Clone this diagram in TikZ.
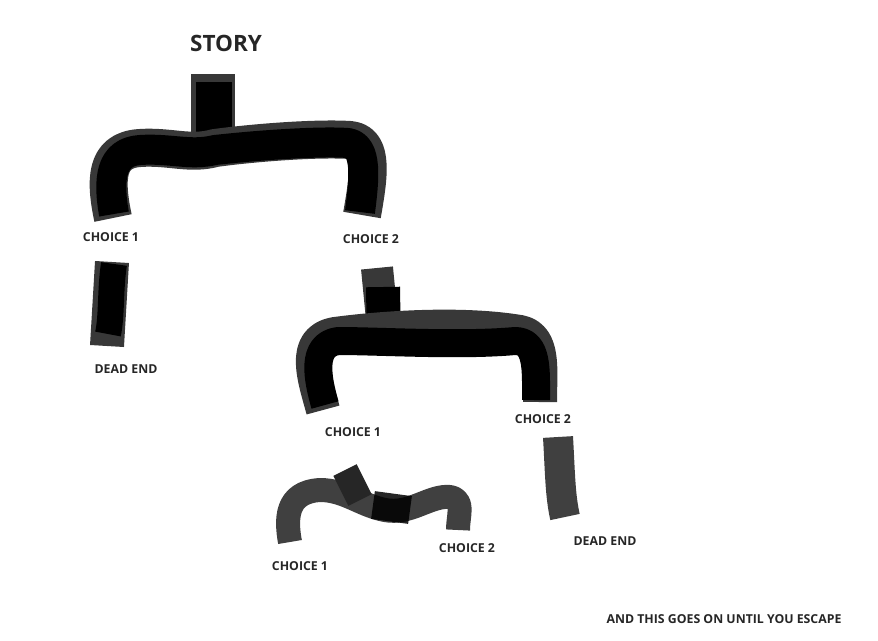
\documentclass[tikz,border=0pt]{standalone}
\usepackage{fontspec}
\setmainfont{Open Sans}
\begin{document}
\begin{tikzpicture}[x=1pt,y=-1pt,
  lbl/.style={font=\bfseries\fontsize{12.3}{14}\selectfont, text=black!85, inner sep=0pt},
  halo/.style={draw=black!78, line width=#1, line cap=butt, line join=round},
  core/.style={draw=black, line width=#1, line cap=butt, line join=round},
  grey/.style={draw=black!75, line width=#1, line cap=butt, line join=round}]
\useasboundingbox (0,0) rectangle (878,640);
% labels
\node[lbl, font=\bfseries\fontsize{22.5}{26}\selectfont] (story) at (226,43) {STORY};
\node[lbl] (c1) at (111,237) {CHOICE 1};
\node[lbl] (c2) at (371,239) {CHOICE 2};
\node[lbl] (d1) at (126,369) {DEAD END};
\node[lbl] (c21) at (353,432) {CHOICE 1};
\node[lbl] (c22) at (543,419) {CHOICE 2};
\node[lbl] (c31) at (300,566) {CHOICE 1};
\node[lbl] (c32) at (467,548) {CHOICE 2};
\node[lbl] (d2) at (605,541) {DEAD END};
\node[lbl] (note) at (724,619) {AND THIS GOES ON UNTIL YOU ESCAPE};
% tree 1
\coordinate (t1top) at (213,74);
\coordinate (t1j) at (213,150);
\draw[halo=44] (t1top) -- (213,158);
\draw[core=36] (214,82) -- (214,158);
\draw[halo=38] (113,218) .. controls (105,180) and (105,150) .. (140,148)
   .. controls (170,146) and (190,155) .. (215,148)
   .. controls (260,142) and (320,138) .. (350,140)
   .. controls (375,142) and (368,180) .. (362,215);
\draw[core=30] (114,214) .. controls (108,180) and (110,152) .. (140,150)
   .. controls (170,148) and (190,156) .. (215,150)
   .. controls (260,145) and (320,141) .. (348,143)
   .. controls (368,146) and (364,180) .. (360,212);
% dead end 1
\draw[halo=34] (112,262) -- (107,346);
\draw[core=26] (114,264) .. controls (110,290) and (112,315) .. (108,334);
% tree 2
\draw[halo=32] (377,268) -- (385,350);
\draw[core=34] (383,287) -- (384,350);
\draw[halo=34] (323,410) .. controls (315,380) and (300,340) .. (335,334)
   .. controls (380,328) and (460,322) .. (520,332)
   .. controls (545,337) and (540,370) .. (540,402);
\draw[core=28] (325,405) .. controls (318,380) and (310,345) .. (338,341)
   .. controls (380,341) and (460,346) .. (515,341)
   .. controls (538,341) and (536,370) .. (536,400);
% dead end 2
\draw[grey=30] (558,437) .. controls (560,470) and (560,495) .. (565,517);
% tree 3
\draw[grey=24] (290,542) .. controls (286,520) and (285,492) .. (320,490)
   .. controls (345,490) and (360,505) .. (385,510)
   .. controls (410,515) and (430,495) .. (450,497)
   .. controls (465,500) and (458,515) .. (458,530);
\draw[black!85, line width=26] (345,470) -- (360,500);
\draw[black, line width=28, opacity=0.85] (373,505) -- (410,510);
\end{tikzpicture}
\end{document}
